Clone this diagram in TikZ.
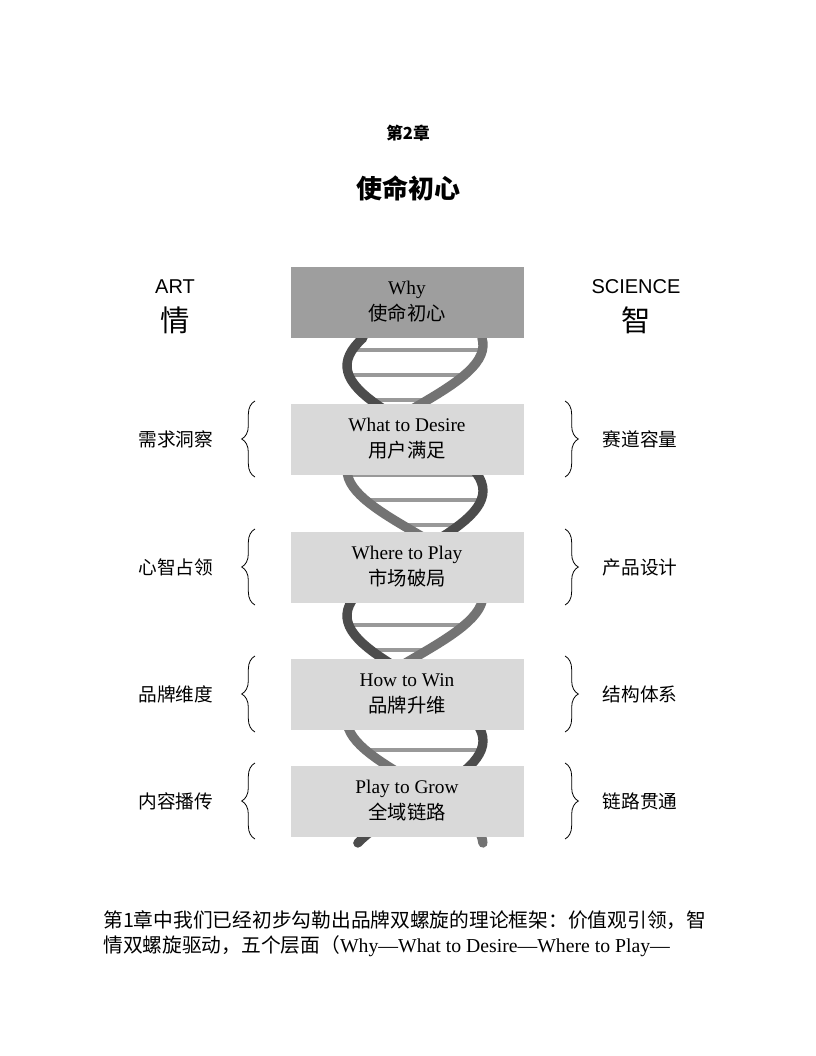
\documentclass[tikz,border=0pt]{standalone}
\usepackage{fontspec}
\setmainfont{Liberation Serif}
\newfontfamily\cjk{Noto Sans CJK SC}
\newfontfamily\arial{Liberation Sans}
\usetikzlibrary{decorations.pathreplacing}
\tikzset{
  layerbox/.style={fill=black!15, minimum width=174.75pt, minimum height=53.25pt, align=center, font=\fontsize{14.5}{19.5}\selectfont, inner sep=0pt},
  sidelabel/.style={font=\cjk\fontsize{14}{16}\selectfont},
  strand/.style={line width=7pt, black!55, line cap=round},
  rung/.style={line width=3pt, black!40},
  bracel/.style={decorate, decoration={brace, amplitude=10pt, mirror}, semithick},
  bracer/.style={decorate, decoration={brace, amplitude=10pt}, semithick}
}
\begin{document}
\begin{tikzpicture}[x=0.75pt, y=-0.75pt]

  \useasboundingbox (0,0) rectangle (816,1056);

  % Chapter heading
  \node[font=\cjk\bfseries\fontsize{12.5}{14}\selectfont] (chap) at (408,133) {第2章};
  \node[font=\cjk\bfseries\fontsize{19.5}{22}\selectfont] (title) at (408,188) {使命初心};

  % Helix behind the boxes
  \foreach \y in {350,375,...,830}
    \draw[rung] ({415+68*sin((\y-338)*1.44+80)},\y) -- ({415+68*sin((\y-338)*1.44+230)},\y);
  \draw[strand] plot[domain=338:843, samples=120] ({415+68*sin((\x-338)*1.44+80)},\x);
  \draw[strand, black!70] plot[domain=338:843, samples=120] ({415+68*sin((\x-338)*1.44+230)},\x);

  % Column heads
  \node[font=\arial\fontsize{15}{17}\selectfont] (art) at (175,287) {ART};
  \node[font=\cjk\fontsize{22}{24}\selectfont] (qing) at (175,320) {情};
  \node[font=\arial\fontsize{15}{17}\selectfont] (science) at (636,287) {SCIENCE};
  \node[font=\cjk\fontsize{22}{24}\selectfont] (zhi) at (636,320) {智};

  % Layers
  \node[layerbox, fill=black!38] (why) at (407,302) {Why\\{\cjk 使命初心}};
  \foreach \name/\yy/\en/\zh/\lt/\rt in {
      desire/439/What to Desire/用户满足/需求洞察/赛道容量,
      play/567/Where to Play/市场破局/心智占领/产品设计,
      win/694/How to Win/品牌升维/品牌维度/结构体系,
      grow/801/Play to Grow/全域链路/内容播传/链路贯通} {
    \node[layerbox] (\name) at (407,\yy) {\en\\{\cjk \zh}};
    \coordinate (\name-lt) at (255,\yy-38);
    \coordinate (\name-lb) at (255,\yy+38);
    \coordinate (\name-rt) at (565,\yy-38);
    \coordinate (\name-rb) at (565,\yy+38);
    \draw[bracel] (\name-lt) -- (\name-lb);
    \draw[bracer] (\name-rt) -- (\name-rb);
    \node[sidelabel, anchor=east] (\name-l) at (218,\yy) {\lt};
    \node[sidelabel, anchor=west] (\name-r) at (598,\yy) {\rt};
  }

  % Body text
  \node[anchor=west, inner sep=0pt, font=\fontsize{14.8}{17}\selectfont] (line1) at (103,920)
    {{\cjk 第1章中我们已经初步勾勒出品牌双螺旋的理论框架：价值观引领，智}};
  \node[anchor=west, inner sep=0pt, font=\fontsize{14.8}{17}\selectfont] (line2) at (103,946)
    {{\cjk 情双螺旋驱动，五个层面（}Why—What to Desire—Where to Play—};

\end{tikzpicture}
\end{document}
